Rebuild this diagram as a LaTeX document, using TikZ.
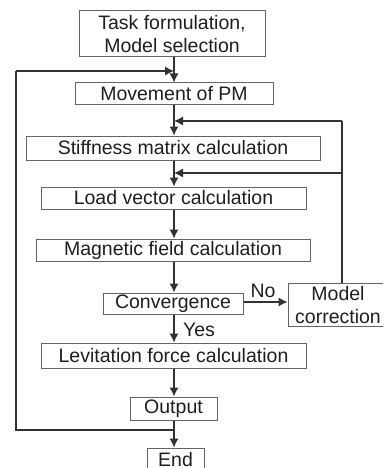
\documentclass[tikz,border=0pt]{standalone}
\usepackage{fontspec}
\setmainfont{Liberation Sans}
\usetikzlibrary{arrows.meta}
\definecolor{ln}{RGB}{50,50,50}
\definecolor{bx}{RGB}{100,100,100}
\definecolor{tx}{RGB}{30,30,30}
\begin{document}
\begin{tikzpicture}[x=1pt,y=-1pt,
  box/.style={draw=bx,line width=1pt,rectangle,inner sep=0pt,text=tx,
    font=\fontsize{19.5}{23}\selectfont,align=center},
  conn/.style={draw=ln,line width=1.1pt},
  arr/.style={conn,-{Latex[length=9pt,width=9pt]}},
  lbl/.style={text=tx,font=\fontsize{19.5}{21}\selectfont,inner sep=0pt}]
\clip (0,0) rectangle (383,468);
\useasboundingbox (0,0) rectangle (383,468);
\node[box,minimum width=186pt,minimum height=46pt] (task) at (172,34) {Task formulation,\\Model selection};
\node[box,minimum width=198pt,minimum height=22pt] (move) at (174,94) {Movement of PM};
\node[box,minimum width=294pt,minimum height=24pt] (stiff) at (173,148) {Stiffness matrix calculation};
\node[box,minimum width=265pt,minimum height=22pt] (load) at (173.5,198) {Load vector calculation};
\node[box,minimum width=274pt,minimum height=22pt] (mag) at (173,250) {Magnetic field calculation};
\node[box,minimum width=140pt,minimum height=21pt] (conv) at (173,303.5) {Convergence};
\node[box,minimum width=100pt,minimum height=43pt] (model) at (338,305) {Model\\correction};
\node[box,minimum width=265pt,minimum height=25pt] (lev) at (173.5,355.5) {Levitation force calculation};
\node[box,minimum width=87pt,minimum height=23pt] (out) at (173.5,408.5) {Output};
\node[box,minimum width=57pt,minimum height=24pt] (end) at (175.5,460) {End};
\node[lbl] (no) at (263,291) {No};
\node[lbl] (yes) at (199,329.5) {Yes};
\coordinate (j1) at (174,71);
\coordinate (j2) at (174,121);
\coordinate (j3) at (174,173);
\coordinate (j4) at (174,430);
\coordinate (r1) at (342,121);
\coordinate (r2) at (342,173);
\coordinate (r0) at (342,283);
\coordinate (l1) at (16,430);
\coordinate (l2) at (16,71);
\draw[arr] (task.south -| j1) -- (j1 |- move.north);
\draw[arr] (move.south -| j2) -- (j2 |- stiff.north);
\draw[arr] (stiff.south -| j3) -- (j3 |- load.north);
\draw[arr] (load.south -| j3) -- (j3 |- mag.north);
\draw[arr] (mag.south -| j3) -- (j3 |- conv.north);
\draw[arr] (conv.south -| j3) -- (j3 |- lev.north);
\draw[arr] (lev.south -| j3) -- (j3 |- out.north);
\draw[arr] (out.south -| j4) -- (j4 |- end.north);
\draw[arr] (conv.east |- 0,302) -- (model.west |- 0,302);
\draw[conn] (r0) -- (r1);
\draw[arr] (r1) -- (j2);
\draw[arr] (r2) -- (j3);
\draw[conn] (j4) -- (l1) -- (l2);
\draw[arr] (l2) -- (j1);
\end{tikzpicture}
\end{document}
